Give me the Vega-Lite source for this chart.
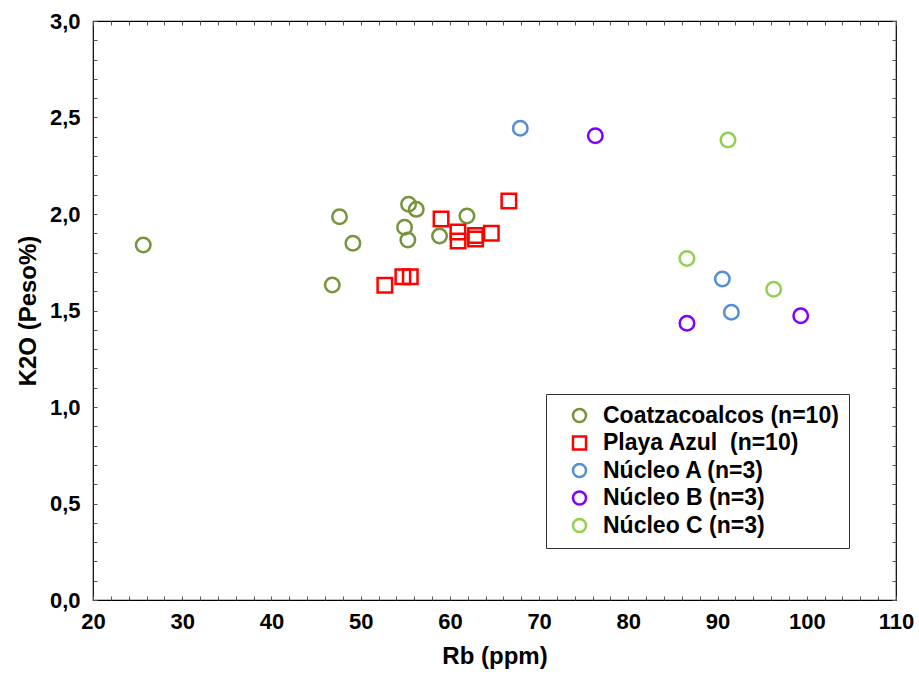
{
  "$schema": "https://vega.github.io/schema/vega-lite/v6.json",
  "width": 803,
  "height": 579,
  "autosize": "none",
  "padding": {"left": 93, "top": 21, "right": 23, "bottom": 79},
  "background": "white",
  "config": {
    "view": {"stroke": "black", "strokeWidth": 1.2},
    "font": "Liberation Sans"
  },
  "data": {"values": [
    {"Rb": 25.63, "K2O": 1.839, "grupo": "Coatzacoalcos (n=10)"},
    {"Rb": 46.82, "K2O": 1.632, "grupo": "Coatzacoalcos (n=10)"},
    {"Rb": 47.63, "K2O": 1.986, "grupo": "Coatzacoalcos (n=10)"},
    {"Rb": 49.13, "K2O": 1.848, "grupo": "Coatzacoalcos (n=10)"},
    {"Rb": 55.37, "K2O": 2.050, "grupo": "Coatzacoalcos (n=10)"},
    {"Rb": 56.23, "K2O": 2.024, "grupo": "Coatzacoalcos (n=10)"},
    {"Rb": 54.92, "K2O": 1.931, "grupo": "Coatzacoalcos (n=10)"},
    {"Rb": 55.29, "K2O": 1.865, "grupo": "Coatzacoalcos (n=10)"},
    {"Rb": 58.84, "K2O": 1.886, "grupo": "Coatzacoalcos (n=10)"},
    {"Rb": 61.91, "K2O": 1.990, "grupo": "Coatzacoalcos (n=10)"},
    {"Rb": 52.71, "K2O": 1.631, "grupo": "Playa Azul\u00a0 (n=10)"},
    {"Rb": 54.73, "K2O": 1.675, "grupo": "Playa Azul\u00a0 (n=10)"},
    {"Rb": 55.56, "K2O": 1.675, "grupo": "Playa Azul\u00a0 (n=10)"},
    {"Rb": 59.01, "K2O": 1.974, "grupo": "Playa Azul\u00a0 (n=10)"},
    {"Rb": 60.90, "K2O": 1.907, "grupo": "Playa Azul\u00a0 (n=10)"},
    {"Rb": 60.92, "K2O": 1.860, "grupo": "Playa Azul\u00a0 (n=10)"},
    {"Rb": 62.88, "K2O": 1.888, "grupo": "Playa Azul\u00a0 (n=10)"},
    {"Rb": 62.88, "K2O": 1.870, "grupo": "Playa Azul\u00a0 (n=10)"},
    {"Rb": 64.64, "K2O": 1.900, "grupo": "Playa Azul\u00a0 (n=10)"},
    {"Rb": 66.61, "K2O": 2.067, "grupo": "Playa Azul\u00a0 (n=10)"},
    {"Rb": 67.89, "K2O": 2.444, "grupo": "Núcleo A (n=3)"},
    {"Rb": 90.54, "K2O": 1.663, "grupo": "Núcleo A (n=3)"},
    {"Rb": 91.55, "K2O": 1.491, "grupo": "Núcleo A (n=3)"},
    {"Rb": 76.30, "K2O": 2.406, "grupo": "Núcleo B (n=3)"},
    {"Rb": 86.57, "K2O": 1.434, "grupo": "Núcleo B (n=3)"},
    {"Rb": 99.32, "K2O": 1.473, "grupo": "Núcleo B (n=3)"},
    {"Rb": 91.17, "K2O": 2.383, "grupo": "Núcleo C (n=3)"},
    {"Rb": 86.57, "K2O": 1.770, "grupo": "Núcleo C (n=3)"},
    {"Rb": 96.29, "K2O": 1.610, "grupo": "Núcleo C (n=3)"}
  ]},
  "resolve": {"axis": {"x": "independent", "y": "independent"}},
  "layer": [
    {
      "mark": {"type": "point", "filled": false, "strokeWidth": 2.5, "size": 210, "opacity": 1},
      "encoding": {
        "x": {
          "field": "Rb", "type": "quantitative",
          "scale": {"domain": [20, 110], "nice": false, "zero": false},
          "axis": {
            "title": "Rb (ppm)", "titleFontSize": 24, "titleFontWeight": "bold", "titleColor": "black", "titlePadding": 12,
            "values": [20,22,24,26,28,30,32,34,36,38,40,42,44,46,48,50,52,54,56,58,60,62,64,66,68,70,72,74,76,78,80,82,84,86,88,90,92,94,96,98,100,102,104,106,108,110],
            "labelExpr": "datum.value % 10 == 0 ? datum.label : ''",
            "labelFontSize": 22, "labelFontWeight": "bold", "labelColor": "black", "labelPadding": 15,
            "tickSize": -4, "tickColor": "#555555", "tickWidth": 1,
            "domain": false, "grid": false, "labelFlush": false, "labelOverlap": false
          }
        },
        "y": {
          "field": "K2O", "type": "quantitative",
          "scale": {"domain": [0, 3], "nice": false, "zero": false},
          "axis": {
            "title": "K2O (Peso%)", "titleFontSize": 24, "titleFontWeight": "bold", "titleColor": "black", "titlePadding": 9,
            "values": [0,0.1,0.2,0.3,0.4,0.5,0.6,0.7,0.8,0.9,1.0,1.1,1.2,1.3,1.4,1.5,1.6,1.7,1.8,1.9,2.0,2.1,2.2,2.3,2.4,2.5,2.6,2.7,2.8,2.9,3.0],
            "labelExpr": "abs(datum.value*2 - round(datum.value*2)) < 0.001 ? replace(format(datum.value, '.1f'), '.', ',') : ''",
            "labelFontSize": 22, "labelFontWeight": "bold", "labelColor": "black", "labelPadding": 17,
            "tickSize": -4, "tickColor": "#555555", "tickWidth": 1,
            "domain": false, "grid": false, "labelFlush": false, "labelOverlap": false
          }
        },
        "shape": {
          "field": "grupo", "type": "nominal",
          "scale": {
            "domain": ["Coatzacoalcos (n=10)", "Playa Azul\u00a0 (n=10)", "Núcleo A (n=3)", "Núcleo B (n=3)", "Núcleo C (n=3)"],
            "range": ["circle", "square", "circle", "circle", "circle"]
          }
        },
        "color": {
          "field": "grupo", "type": "nominal",
          "scale": {
            "domain": ["Coatzacoalcos (n=10)", "Playa Azul\u00a0 (n=10)", "Núcleo A (n=3)", "Núcleo B (n=3)", "Núcleo C (n=3)"],
            "range": ["#77933C", "#FF0000", "#558ED5", "#8000FF", "#92D050"]
          },
          "legend": {
            "title": null, "orient": "none", "legendX": 453, "legendY": 373,
            "strokeColor": "#333333", "padding": 10, "fillColor": "white",
            "labelFontSize": 23, "labelFontWeight": "bold", "labelColor": "black", "labelLimit": 400,
            "symbolSize": 170, "symbolStrokeWidth": 2.5, "symbolType": "circle", "symbolOffset": 12,
            "rowPadding": 2.5, "labelOffset": 12
          }
        }
      }
    },
    {
      "mark": {"type": "point", "opacity": 0},
      "encoding": {
        "x": {
          "field": "Rb", "type": "quantitative",
          "axis": {
            "title": null, "labels": false, "domain": false, "grid": false,
            "values": [20,22,24,26,28,30,32,34,36,38,40,42,44,46,48,50,52,54,56,58,60,62,64,66,68,70,72,74,76,78,80,82,84,86,88,90,92,94,96,98,100,102,104,106,108,110],
            "tickSize": -4, "tickColor": "#555555", "tickWidth": 1
          }
        },
        "y": {
          "field": "K2O", "type": "quantitative",
          "axis": {
            "title": null, "labels": false, "domain": false, "grid": false,
            "values": [0,0.1,0.2,0.3,0.4,0.5,0.6,0.7,0.8,0.9,1.0,1.1,1.2,1.3,1.4,1.5,1.6,1.7,1.8,1.9,2.0,2.1,2.2,2.3,2.4,2.5,2.6,2.7,2.8,2.9,3.0],
            "tickSize": -4, "tickColor": "#555555", "tickWidth": 1
          }
        }
      }
    }
  ]
}
